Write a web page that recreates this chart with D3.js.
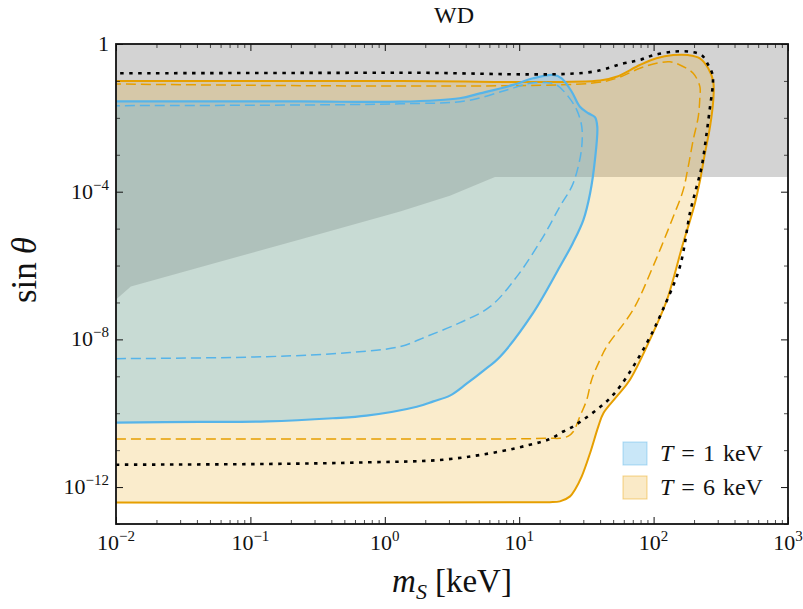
<!DOCTYPE html>
<meta charset="utf-8">
<style>
body { margin: 0; background: #fff; }
text { font-family: "Liberation Serif", "DejaVu Serif", serif; fill: #111; }
.minor line { stroke: #222; stroke-width: 0.8; }
.major line { stroke: #111; stroke-width: 1; }
</style>
<svg width="803" height="609"></svg>
<script src="https://cdn.jsdelivr.net/npm/d3@7/dist/d3.min.js"></script>
<script>

// [m_S (keV), sin(theta)]

// lower edge of the grey excluded band
var excludedEdge = [[0.01, 1.2e-7], [0.0129, 2.7e-7], [0.234, 5.1e-6], [1.3, 2.9e-5],
  [3.05, 7.8e-5], [5.1, 1.7e-4], [6.6, 2.5e-4], [1000, 2.5e-4]];

// T = 1 keV
var blueSolid = [[0.01, 5.6e-11], [0.042, 5.8e-11], [0.132, 6.0e-11], [0.41, 7.3e-11],
  [0.73, 8.6e-11], [1.73, 1.5e-10], [2.3, 2.1e-10], [3.05, 3.0e-10], [4.06, 6.3e-10],
  [5.4, 1.4e-9], [7.2, 3.4e-9], [12.7, 5.2e-8], [20.1, 9.4e-7], [25.1, 4.1e-6], [30, 1.7e-5],
  [33.7, 9.1e-5], [36.6, 7.3e-4], [38.1, 5.8e-3], [36.6, 1.04e-2], [32.7, 1.33e-2],
  [28.3, 2.0e-2], [24.6, 5.1e-2], [20.7, 0.118], [17.9, 0.145], [12.7, 0.118], [9.0, 7.8e-2],
  [5.1, 4.6e-2], [3.6, 3.4e-2], [1.3, 2.74e-2], [0.234, 2.78e-2], [0.01, 2.78e-2]];

var blueDashed = [[0.01, 3.0e-9], [0.132, 3.4e-9], [0.55, 4.4e-9], [1.3, 6.4e-9],
  [2.05, 1.2e-8], [3.6, 2.8e-8], [6.1, 7.8e-8], [9.6, 5.0e-7], [15.1, 6.1e-6],
  [20.1, 4.0e-5], [24.6, 1.37e-4], [27.5, 4.8e-4], [29.2, 1.66e-3], [29.2, 5.8e-3],
  [26.8, 1.64e-2], [23.2, 3.75e-2], [19.0, 7.8e-2], [16.0, 9.0e-2], [12.0, 8.6e-2],
  [8.1, 5.7e-2], [4.06, 2.9e-2], [1.3, 2.4e-2], [0.01, 2.14e-2]];

// T = 6 keV
var orangeSolid = [[0.01, 3.8e-13], [1.3, 3.8e-13], [12.0, 3.9e-13], [16.9, 3.9e-13],
  [20.1, 4.1e-13], [23.9, 5.6e-13], [26.0, 8.5e-13], [29.2, 1.95e-12], [33.7, 8.4e-12],
  [38.8, 4.4e-11], [42.3, 1.0e-10], [53.2, 2.85e-10], [66.7, 8.1e-10], [99, 1.5e-8],
  [126, 1.2e-7], [166, 4.1e-6], [187, 1.7e-5], [203, 4.9e-5], [222, 2.1e-4],
  [241, 1.1e-3], [263, 5.8e-3], [278, 3.05e-2], [278, 9.5e-2], [255, 0.22], [221, 0.41],
  [181, 0.50], [140, 0.50], [105, 0.41], [79, 0.27], [53, 0.13], [40, 0.102],
  [1.3, 0.0997], [0.01, 0.0997]];

var orangeDashed = [[0.01, 2.0e-11], [1.3, 2.0e-11], [12.0, 2.04e-11], [16.9, 2.1e-11],
  [20.1, 2.1e-11], [23.2, 2.4e-11], [25.3, 3.2e-11], [28.3, 8.2e-11], [31.8, 2.3e-10],
  [34.6, 8.1e-10], [39.9, 2.8e-9], [44.8, 6.4e-9], [70.3, 6.3e-8], [99, 9.4e-7],
  [140, 2.1e-5], [166, 1.1e-4], [181, 4.8e-4], [197, 2.5e-3], [215, 1.08e-2],
  [221, 3.75e-2], [221, 7.0e-2], [197, 0.161], [157, 0.27], [132, 0.33], [105, 0.30],
  [79, 0.22], [53, 0.118], [33.7, 8.6e-2], [0.01, 8.26e-2]];

var blackDotted = [[0.01, 4.04e-12], [0.132, 4.22e-12], [0.73, 4.67e-12], [2.71, 5.5e-12],
  [7.2, 9.2e-12], [12.0, 1.4e-11], [16.9, 2.0e-11], [21.3, 3.2e-11], [25.3, 4.4e-11],
  [30, 6.7e-11], [37.7, 1.24e-10], [46, 2.3e-10], [57.5, 5.9e-10], [89, 7.9e-9],
  [117, 6.3e-8], [157, 9.4e-7], [187, 2.8e-5], [209, 1.37e-4], [228, 4.8e-4],
  [248, 3.8e-3], [263, 2.0e-2], [275, 7.0e-2], [275, 0.145], [255, 0.27], [228, 0.50],
  [187, 0.62], [140, 0.62], [100, 0.50], [79, 0.37], [60, 0.30], [33.7, 0.173],
  [1.3, 0.167], [0.01, 0.161]];

var xDecades = [-2, -1, 0, 1, 2, 3],
    yDecades = [-13, -12, -11, -10, -9, -8, -7, -6, -5, -4, -3, -2, -1, 0],
    yLabelled = [-12, -8, -4, 0];

var temperatures = [1, 6],
    tempColors = ["#56B4E9", "#E69F00"],
    tempOpacity = [0.3, 0.2];

var svg = d3.select("svg"),
    margin = {top: 44, right: 15, bottom: 85, left: 116},
    width = +svg.attr("width") - margin.left - margin.right,
    height = +svg.attr("height") - margin.top - margin.bottom;

var x = d3.scaleLog().domain([1e-2, 1e3]).range([0, width]),
    y = d3.scaleLog().domain([1e-13, 1]).range([height, 0]);

var g = svg.append("g")
    .attr("transform", "translate(" + margin.left + "," + margin.top + ")");

g.append("clipPath").attr("id", "clip")
  .append("rect").attr("width", width).attr("height", height);

var plot = g.append("g").attr("clip-path", "url(#clip)");

var poly = d3.line().x(function(d) { return x(d[0]); }).y(function(d) { return y(d[1]); }),
    smooth = d3.line().x(function(d) { return x(d[0]); }).y(function(d) { return y(d[1]); })
      .curve(d3.curveCatmullRom.alpha(0.5));

// grey excluded band
plot.append("path")
    .attr("d", poly([[1e-2, 1]].concat(excludedEdge, [[1e3, 1]])) + "Z")
    .attr("fill", "#d3d3d3");

// filled regions
plot.append("path").attr("d", smooth(orangeSolid))
    .attr("fill", tempColors[1]).attr("fill-opacity", tempOpacity[1]);
plot.append("path").attr("d", smooth(blueSolid))
    .attr("fill", tempColors[0]).attr("fill-opacity", tempOpacity[0]);

// contour lines
function contour(data, color, w, dash) {
  plot.append("path").attr("d", smooth(data))
      .attr("fill", "none")
      .attr("stroke", color)
      .attr("stroke-width", w)
      .attr("stroke-dasharray", dash);
}
contour(orangeDashed, tempColors[1], 1.5, "10 5");
contour(orangeSolid, tempColors[1], 2, null);
contour(blueDashed, tempColors[0], 1.5, "10 5");
contour(blueSolid, tempColors[0], 2.2, null);
contour(blackDotted, "#000", 2.6, "3.5 5.5");

// ticks on all four sides, pointing inwards
var xMajor = xDecades.map(function(e) { return Math.pow(10, e); }),
    xMinor = [];
xDecades.slice(0, -1).forEach(function(e) {
  for (var k = 2; k < 10; k++) xMinor.push(k * Math.pow(10, e));
});
var yMajor = yLabelled.map(function(e) { return Math.pow(10, e); }),
    yMinor = yDecades.filter(function(e) { return yLabelled.indexOf(e) < 0; })
      .map(function(e) { return Math.pow(10, e); });

function ticks(axis, vals, len, cls, tr) {
  var a = g.append("g").attr("class", cls).attr("transform", tr)
      .call(axis.tickValues(vals).tickSize(-len).tickFormat(""));
  a.select(".domain").remove();
}
ticks(d3.axisBottom(x), xMajor, 7, "major", "translate(0," + height + ")");
ticks(d3.axisBottom(x), xMinor, 4, "minor", "translate(0," + height + ")");
ticks(d3.axisTop(x), xMajor, 7, "major", null);
ticks(d3.axisTop(x), xMinor, 4, "minor", null);
ticks(d3.axisLeft(y), yMajor, 7, "major", null);
ticks(d3.axisLeft(y), yMinor, 4, "minor", null);
ticks(d3.axisRight(y), yMajor, 7, "major", "translate(" + width + ",0)");
ticks(d3.axisRight(y), yMinor, 4, "minor", "translate(" + width + ",0)");

g.append("rect")
    .attr("width", width).attr("height", height)
    .attr("fill", "none").attr("stroke", "#111").attr("stroke-width", 1.8);

// tick labels
function powLabel(sel, e, isY) {
  if (e === 0 && isY) { sel.text("1"); return; }
  sel.append("tspan").text("10");
  sel.append("tspan").attr("dy", -9).attr("font-size", 15)
      .text(e < 0 ? "\u2212" + (-e) : String(e));
}

g.selectAll(".xlab").data(xDecades).enter().append("text")
    .attr("x", function(e) { return x(Math.pow(10, e)); })
    .attr("y", height + 26)
    .attr("text-anchor", "middle")
    .attr("font-size", 22)
    .each(function(e) { powLabel(d3.select(this), e, false); });

g.selectAll(".ylab").data(yLabelled).enter().append("text")
    .attr("x", -7)
    .attr("y", function(e) { return y(Math.pow(10, e)) + 7; })
    .attr("text-anchor", "end")
    .attr("font-size", 22)
    .each(function(e) { powLabel(d3.select(this), e, true); });

// axis titles
var xt = g.append("text")
    .attr("x", width / 2)
    .attr("y", height + 68)
    .attr("text-anchor", "middle")
    .attr("font-size", 33);
xt.append("tspan").attr("font-style", "italic").text("m");
xt.append("tspan").attr("font-style", "italic").attr("font-size", 22).attr("dy", 7).text("S");
xt.append("tspan").attr("dy", -7).attr("dx", 8).text("[keV]");

var yt = g.append("text")
    .attr("transform", "translate(-80," + (height / 2 - 14) + ") rotate(-90)")
    .attr("text-anchor", "middle")
    .attr("font-size", 35);
yt.append("tspan").text("sin");
yt.append("tspan").attr("dx", 8).attr("font-style", "italic").text("\u03b8");

g.append("text")
    .attr("x", width / 2 + 2)
    .attr("y", -21)
    .attr("text-anchor", "middle")
    .attr("font-size", 24)
    .text("WD");

// legend
var legend = g.selectAll(".legend").data(temperatures).enter().append("g")
    .attr("transform", function(d, i) { return "translate(507," + (398 + i * 34) + ")"; });

legend.append("rect")
    .attr("width", 24).attr("height", 23)
    .attr("fill", function(d, i) { return tempColors[i]; })
    .attr("fill-opacity", function(d, i) { return tempOpacity[i] + 0.02; })
    .attr("stroke", function(d, i) { return tempColors[i]; })
    .attr("stroke-opacity", 0.45);

var lt = legend.append("text")
    .attr("x", 37).attr("y", 19)
    .attr("font-size", 24)
    .attr("word-spacing", 2);
lt.append("tspan").attr("font-style", "italic").text("T");
lt.append("tspan").text(function(d) { return " = " + d + " keV"; });

</script>
